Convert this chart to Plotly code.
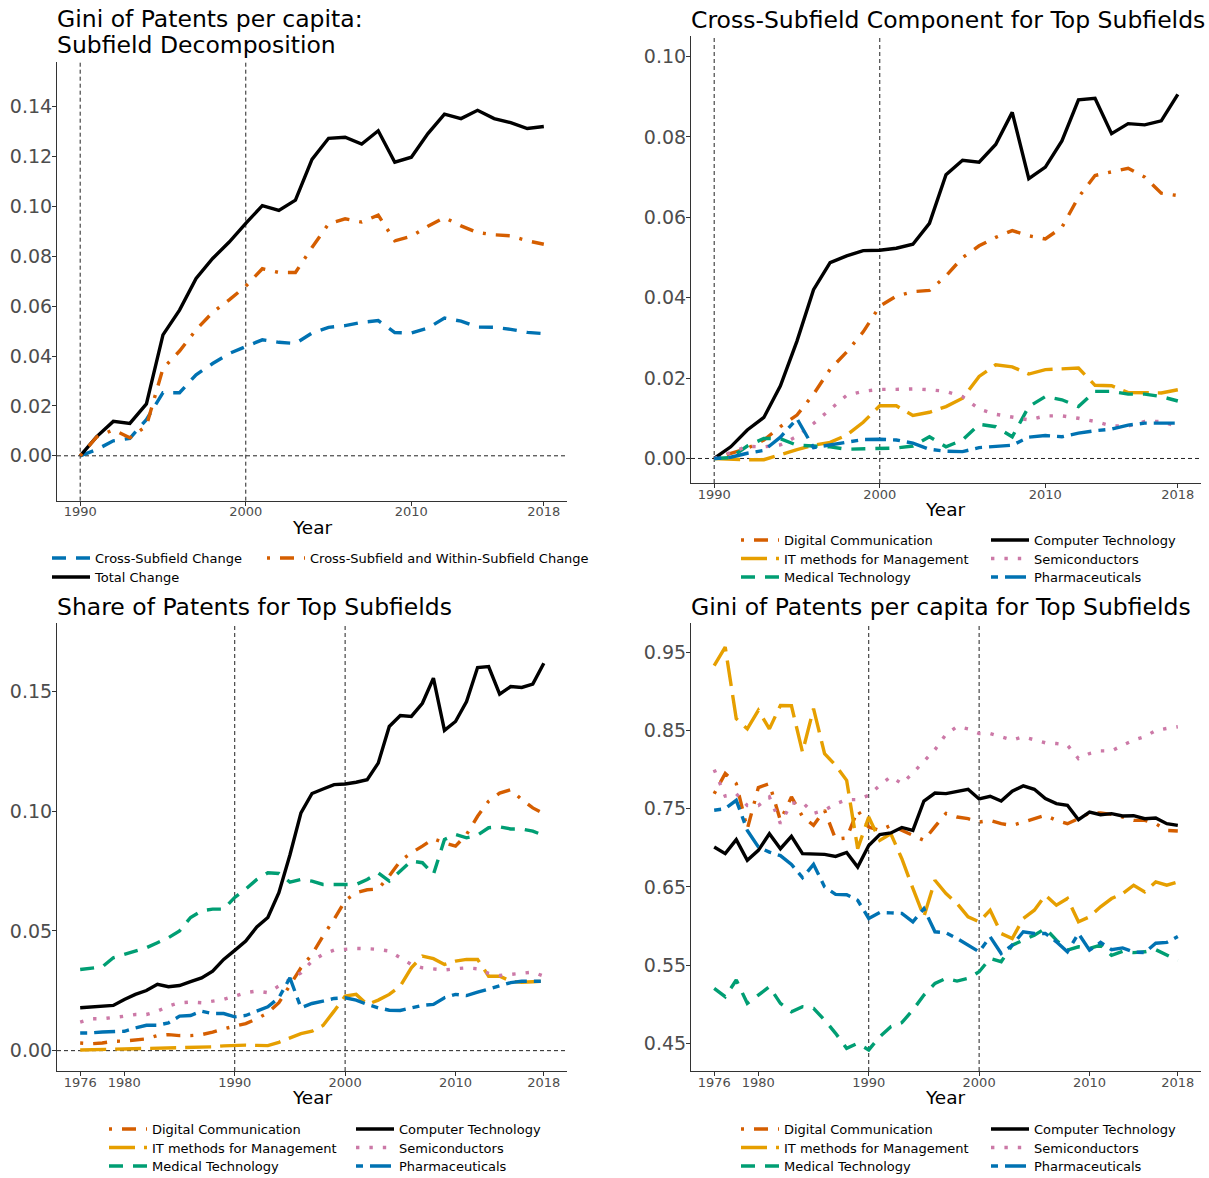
import plotly.graph_objects as go

FONT = "DejaVu Sans"
W, H = 1209, 1178

# ---------------- data ----------------
YEARS_DECOMP = list(range(1990, 2019))
YEARS_FULL = list(range(1976, 2019))
VLINES = [1990, 2000]

# Panel 1: Gini of patents per capita, subfield decomposition
CROSS_SUBFIELD_CHANGE = [0, 0.0025, 0.0060, 0.0070, 0.0145, 0.0253, 0.0253, 0.0325, 0.0370, 0.0410,
                         0.0438, 0.0465, 0.0455, 0.0450, 0.0492, 0.0515, 0.0522, 0.0535, 0.0542, 0.0494,
                         0.0492, 0.0512, 0.0552, 0.0540, 0.0516, 0.0515, 0.0507, 0.0495, 0.0490]
CROSS_AND_WITHIN_CHANGE = [0, 0.0076, 0.0104, 0.0072, 0.0120, 0.0350, 0.0420, 0.0505, 0.0575, 0.0625,
                           0.0680, 0.0750, 0.0735, 0.0735, 0.0835, 0.0930, 0.0950, 0.0937, 0.0965, 0.0862,
                           0.0880, 0.0920, 0.0955, 0.0922, 0.0895, 0.0886, 0.0882, 0.0862, 0.0848]
TOTAL_CHANGE = [0, 0.0077, 0.0138, 0.0130, 0.0208, 0.0485, 0.0584, 0.0711, 0.0791, 0.0857,
                0.0932, 0.1003, 0.0984, 0.1025, 0.1188, 0.1273, 0.1277, 0.1250, 0.1303, 0.1177,
                0.1197, 0.1292, 0.1370, 0.1352, 0.1385, 0.1352, 0.1336, 0.1312, 0.1320]

SUBFIELDS = ["Digital Communication", "IT methods for Management", "Medical Technology",
             "Computer Technology", "Semiconductors", "Pharmaceuticals"]

# Panel 2: cross-subfield component (1990-2018)
CROSS_DIGITAL = [0, 0.0012, 0.0025, 0.0046, 0.0079, 0.0108, 0.0160, 0.0222, 0.0265, 0.0315,
                 0.0379, 0.0404, 0.0415, 0.0418, 0.0454, 0.0500, 0.0529, 0.0550, 0.0567, 0.0554,
                 0.0546, 0.0575, 0.0650, 0.0704, 0.0713, 0.0722, 0.0700, 0.0660, 0.0654]
CROSS_IT = [0, -0.0002, -0.0003, -0.0003, 0.0010, 0.0022, 0.0033, 0.0040, 0.0058, 0.0090,
            0.0131, 0.0131, 0.0107, 0.0115, 0.0129, 0.0150, 0.0204, 0.0233, 0.0228, 0.0210,
            0.0221, 0.0223, 0.0225, 0.0182, 0.0181, 0.0164, 0.0163, 0.0163, 0.0171]
CROSS_MEDICAL = [0, 0.0002, 0.0031, 0.0050, 0.0049, 0.0033, 0.0031, 0.0029, 0.0023, 0.0024,
                 0.0026, 0.0026, 0.0031, 0.0054, 0.0029, 0.0046, 0.0085, 0.0079, 0.0054, 0.0129,
                 0.0154, 0.0146, 0.0129, 0.0167, 0.0167, 0.0160, 0.0160, 0.0154, 0.0143]
CROSS_COMPUTER = [0, 0.0029, 0.0071, 0.0102, 0.0181, 0.0292, 0.0420, 0.0487, 0.0504, 0.0517,
                  0.0518, 0.0523, 0.0533, 0.0585, 0.0706, 0.0742, 0.0737, 0.0781, 0.0861, 0.0696,
                  0.0725, 0.0790, 0.0892, 0.0896, 0.0808, 0.0833, 0.0830, 0.0840, 0.0906]
CROSS_SEMI = [0, 0.0015, 0.0030, 0.0029, 0.0034, 0.0055, 0.0087, 0.0122, 0.0157, 0.0167,
              0.0172, 0.0172, 0.0173, 0.0171, 0.0167, 0.0154, 0.0123, 0.0110, 0.0104, 0.0096,
              0.0106, 0.0106, 0.0100, 0.0092, 0.0081, 0.0081, 0.0092, 0.0092, 0.0079]
CROSS_PHARMA = [0, 0.0003, 0.0013, 0.0020, 0.0053, 0.0099, 0.0027, 0.0034, 0.0039, 0.0047,
                0.0048, 0.0046, 0.0038, 0.0023, 0.0018, 0.0017, 0.0027, 0.0031, 0.0033, 0.0053,
                0.0057, 0.0054, 0.0063, 0.0069, 0.0073, 0.0083, 0.0088, 0.0088, 0.0088]

# Panel 3: share of patents (1976-2018)
SHARE_DIGITAL = [0.0032, 0.0029, 0.0032, 0.0039, 0.0040, 0.0043, 0.0049, 0.0063, 0.0067, 0.0063,
                 0.0063, 0.0067, 0.0077, 0.0091, 0.0102, 0.0113, 0.0133, 0.0158, 0.0200, 0.0270,
                 0.0346, 0.0402, 0.0479, 0.0549, 0.0626, 0.0660, 0.0672, 0.0675, 0.0730, 0.0792,
                 0.0826, 0.0854, 0.0885, 0.0868, 0.0854, 0.0903, 0.0979, 0.1042, 0.1076, 0.1090,
                 0.1049, 0.1014, 0.0990]
SHARE_IT = [0.0003, 0.0003, 0.0004, 0.0006, 0.0007, 0.0008, 0.0008, 0.0009, 0.0010, 0.0010,
            0.0012, 0.0015, 0.0016, 0.0020, 0.0022, 0.0023, 0.0022, 0.0021, 0.0035, 0.0053,
            0.0071, 0.0081, 0.0105, 0.0165, 0.0228, 0.0235, 0.0193, 0.0211, 0.0235, 0.0270,
            0.0346, 0.0395, 0.0384, 0.0360, 0.0374, 0.0381, 0.0381, 0.0311, 0.0311, 0.0290,
            0.0286, 0.0288, 0.0290]
SHARE_MEDICAL = [0.0339, 0.0346, 0.0350, 0.0388, 0.0402, 0.0416, 0.0430, 0.0451, 0.0472, 0.0500,
                 0.0556, 0.0584, 0.0591, 0.0591, 0.0640, 0.0675, 0.0715, 0.0743, 0.0740, 0.0704,
                 0.0715, 0.0708, 0.0694, 0.0694, 0.0694, 0.0694, 0.0715, 0.0743, 0.0708, 0.0750,
                 0.0792, 0.0785, 0.0736, 0.0882, 0.0903, 0.0889, 0.0900, 0.0931, 0.0935, 0.0926,
                 0.0926, 0.0917, 0.0899]
SHARE_COMPUTER = [0.0179, 0.0182, 0.0186, 0.0189, 0.0214, 0.0235, 0.0251, 0.0277, 0.0267, 0.0272,
                  0.0288, 0.0304, 0.0332, 0.0381, 0.0419, 0.0458, 0.0517, 0.0556, 0.0660, 0.0817,
                  0.0993, 0.1074, 0.1093, 0.1111, 0.1114, 0.1121, 0.1132, 0.1201, 0.1354, 0.1400,
                  0.1396, 0.1451, 0.1556, 0.1338, 0.1375, 0.1458, 0.1600, 0.1604, 0.1489, 0.1521,
                  0.1517, 0.1531, 0.1618]
SHARE_SEMI = [0.0119, 0.0133, 0.0133, 0.0137, 0.0144, 0.0151, 0.0151, 0.0165, 0.0186, 0.0200,
              0.0203, 0.0200, 0.0207, 0.0214, 0.0228, 0.0242, 0.0249, 0.0242, 0.0270, 0.0297,
              0.0325, 0.0374, 0.0402, 0.0420, 0.0423, 0.0427, 0.0426, 0.0423, 0.0416, 0.0388,
              0.0360, 0.0346, 0.0342, 0.0337, 0.0342, 0.0346, 0.0342, 0.0323, 0.0314, 0.0318,
              0.0325, 0.0328, 0.0311]
SHARE_PHARMA = [0.0074, 0.0074, 0.0078, 0.0078, 0.0081, 0.0095, 0.0106, 0.0106, 0.0116, 0.0144,
                0.0147, 0.0165, 0.0155, 0.0155, 0.0141, 0.0147, 0.0165, 0.0183, 0.0221, 0.0304,
                0.0179, 0.0197, 0.0207, 0.0218, 0.0221, 0.0211, 0.0193, 0.0179, 0.0169, 0.0168,
                0.0179, 0.0189, 0.0193, 0.0221, 0.0235, 0.0230, 0.0244, 0.0258, 0.0270, 0.0284,
                0.0290, 0.0290, 0.0290]

# Panel 4: Gini of patents per capita (1976-2018)
GINI_DIGITAL = [0.7690, 0.7950, 0.7820, 0.7240, 0.7770, 0.7820, 0.7350, 0.7650, 0.7400, 0.7287,
                0.7480, 0.7110, 0.7125, 0.7480, 0.7265, 0.7222, 0.7287, 0.7222, 0.7160, 0.7095,
                0.7270, 0.7440, 0.7393, 0.7372, 0.7329, 0.7350, 0.7308, 0.7286, 0.7329, 0.7372,
                0.7415, 0.7350, 0.7308, 0.7372, 0.7444, 0.7444, 0.7427, 0.7393, 0.7350, 0.7350,
                0.7308, 0.7222, 0.7214]
GINI_IT = [0.9330, 0.9566, 0.8650, 0.8520, 0.8757, 0.8520, 0.8820, 0.8816, 0.8224, 0.8779,
           0.8203, 0.8054, 0.7862, 0.6988, 0.7393, 0.7095, 0.7180, 0.6860, 0.6480, 0.6120,
           0.6585, 0.6415, 0.6287, 0.6117, 0.6053, 0.6202, 0.5904, 0.5840, 0.6096, 0.6202,
           0.6394, 0.6266, 0.6351, 0.6053, 0.6117, 0.6245, 0.6351, 0.6415, 0.6521, 0.6436,
           0.6564, 0.6521, 0.6564]
GINI_MEDICAL = [0.5202, 0.5096, 0.5309, 0.5011, 0.5117, 0.5223, 0.5011, 0.4904, 0.4968, 0.4947,
                0.4798, 0.4628, 0.4436, 0.4500, 0.4415, 0.4585, 0.4713, 0.4764, 0.4926, 0.5117,
                0.5266, 0.5330, 0.5296, 0.5330, 0.5415, 0.5585, 0.5543, 0.5755, 0.5819, 0.5883,
                0.5968, 0.5819, 0.5691, 0.5734, 0.5713, 0.5755, 0.5624, 0.5675, 0.5660, 0.5670,
                0.5697, 0.5633, 0.5560]
GINI_COMPUTER = [0.7010, 0.6925, 0.7104, 0.6839, 0.6967, 0.7180, 0.6988, 0.7146, 0.6925, 0.6923,
                 0.6916, 0.6890, 0.6940, 0.6753, 0.7030, 0.7170, 0.7190, 0.7260, 0.7222, 0.7598,
                 0.7700, 0.7692, 0.7723, 0.7748, 0.7624, 0.7658, 0.7598, 0.7722, 0.7791, 0.7748,
                 0.7628, 0.7564, 0.7543, 0.7359, 0.7457, 0.7423, 0.7436, 0.7406, 0.7410, 0.7372,
                 0.7380, 0.7308, 0.7286]
GINI_SEMI = [0.8000, 0.7660, 0.7690, 0.7540, 0.7540, 0.7650, 0.7310, 0.7570, 0.7580, 0.7440,
             0.7480, 0.7560, 0.7615, 0.7615, 0.7670, 0.7800, 0.7910, 0.7820, 0.7955, 0.8110,
             0.8255, 0.8450, 0.8550, 0.8520, 0.8462, 0.8462, 0.8419, 0.8376, 0.8419, 0.8385,
             0.8342, 0.8333, 0.8312, 0.8140, 0.8205, 0.8239, 0.8239, 0.8310, 0.8376, 0.8420,
             0.8500, 0.8526, 0.8547]
GINI_PHARMA = [0.7480, 0.7500, 0.7607, 0.7222, 0.7010, 0.6945, 0.6900, 0.6788, 0.6618, 0.6788,
               0.6500, 0.6404, 0.6400, 0.6328, 0.6096, 0.6172, 0.6168, 0.6160, 0.6053, 0.6223,
               0.5926, 0.5913, 0.5840, 0.5755, 0.5670, 0.5862, 0.5649, 0.5755, 0.5926, 0.5904,
               0.5904, 0.5798, 0.5670, 0.5904, 0.5691, 0.5790, 0.5697, 0.5720, 0.5667, 0.5660,
               0.5780, 0.5790, 0.5867]

# ---------------- styles ----------------
LW = 3.4
COLORS = {"Digital Communication": "#D55E00", "IT methods for Management": "#E69F00",
          "Medical Technology": "#009E73", "Computer Technology": "#000000",
          "Semiconductors": "#CC79A7", "Pharmaceuticals": "#0072B2"}
DASH_DOTDASH = "3px,10px,14px,10px"
DASH_LONG = "26px,9px"
DASH_DASHED = "14px,10px"
DASH_DOTTED = "3.4px,10px"
DASH_TWODASH = "7px,7px,21px,7px"
DASHES = {"Digital Communication": DASH_DOTDASH, "IT methods for Management": DASH_LONG,
          "Medical Technology": DASH_DASHED, "Computer Technology": "solid",
          "Semiconductors": DASH_DOTTED, "Pharmaceuticals": DASH_TWODASH}


def px(x):
    return x / W


def py(y):
    return 1 - y / H


fig = go.Figure()

# panel geometry (pixels)
LEFT = (57, 567)
RIGHT = (691, 1201)
P_TOP = {1: (61.7, 500.7), 2: (36, 483), 3: (623.3, 1071), 4: (623.3, 1071)}
P_X = {1: LEFT, 2: RIGHT, 3: LEFT, 4: RIGHT}

# legend slot geometry: text x for each column, y centre of each row
LEG_COLS = {1: (95, 310), 2: (784, 1034), 3: (152, 399), 4: (784, 1034)}
LEG_ROWS = {1: (558, 577), 2: (540, 558.5, 577), 3: (1129, 1147.5, 1166), 4: (1129, 1147.5, 1166)}

legend_slots = []  # (legend id, column, row, panel)


def new_legend(panel, col, row):
    idx = len(legend_slots) + 1
    lid = "legend" if idx == 1 else f"legend{idx}"
    legend_slots.append((lid, col, row, panel))
    return lid


# ---------- panel 1 ----------
p1 = [("Cross-Subfield Change", CROSS_SUBFIELD_CHANGE, "#0072B2", DASH_DASHED, 0, 0),
      ("Total Change", TOTAL_CHANGE, "#000000", "solid", 0, 1),
      ("Cross-Subfield and Within-Subfield Change", CROSS_AND_WITHIN_CHANGE, "#D55E00", DASH_DOTDASH, 1, 0)]
for name, vals, col, dash, c, r in p1:
    fig.add_trace(go.Scatter(x=YEARS_DECOMP, y=vals, mode="lines", name=name, showlegend=True,
                             line=dict(color=col, width=LW, dash=dash),
                             xaxis="x", yaxis="y", legend=new_legend(1, c, r)))

# ---------- panels 2-4 ----------
panel_data = {
    2: dict(zip(SUBFIELDS, [CROSS_DIGITAL, CROSS_IT, CROSS_MEDICAL, CROSS_COMPUTER, CROSS_SEMI, CROSS_PHARMA])),
    3: dict(zip(SUBFIELDS, [SHARE_DIGITAL, SHARE_IT, SHARE_MEDICAL, SHARE_COMPUTER, SHARE_SEMI, SHARE_PHARMA])),
    4: dict(zip(SUBFIELDS, [GINI_DIGITAL, GINI_IT, GINI_MEDICAL, GINI_COMPUTER, GINI_SEMI, GINI_PHARMA])),
}
panel_years = {2: YEARS_DECOMP, 3: YEARS_FULL, 4: YEARS_FULL}
for p in (2, 3, 4):
    for i, name in enumerate(SUBFIELDS):
        fig.add_trace(go.Scatter(x=panel_years[p], y=panel_data[p][name], mode="lines", name=name,
                                 showlegend=True,
                                 line=dict(color=COLORS[name], width=LW, dash=DASHES[name]),
                                 xaxis=f"x{p}", yaxis=f"y{p}",
                                 legend=new_legend(p, i // 3, i % 3)))

# ---------- axes ----------
AX_COL = "#333333"
TICK_COL = "#4D4D4D"
x_ranges = {1: [1988.6, 2019.4], 2: [1988.6, 2019.4], 3: [1973.9, 2020.1], 4: [1973.9, 2020.1]}
x_ticks = {1: [1990, 2000, 2010, 2018], 2: [1990, 2000, 2010, 2018],
           3: [1976, 1980, 1990, 2000, 2010, 2018], 4: [1976, 1980, 1990, 2000, 2010, 2018]}
y_ranges = {1: [-0.018, 0.158], 2: [-0.0061, 0.1051], 3: [-0.0085, 0.1785], 4: [0.4146, 0.987]}
y_ticks = {1: [0, 0.02, 0.04, 0.06, 0.08, 0.10, 0.12, 0.14],
           2: [0, 0.02, 0.04, 0.06, 0.08, 0.10],
           3: [0, 0.05, 0.10, 0.15],
           4: [0.45, 0.55, 0.65, 0.75, 0.85, 0.95]}

layout = dict(width=W, height=H, margin=dict(l=0, r=0, t=0, b=0, autoexpand=False),
              paper_bgcolor="white", plot_bgcolor="white", showlegend=True,
              font=dict(family=FONT, color="black"))
for p in (1, 2, 3, 4):
    sfx = "" if p == 1 else str(p)
    x0, x1 = P_X[p]
    t, b = P_TOP[p]
    common = dict(showline=True, linecolor=AX_COL, linewidth=1.1, ticks="outside", ticklen=4,
                  tickwidth=1.1, tickcolor=AX_COL, showgrid=False, zeroline=False)
    layout["xaxis" + sfx] = dict(domain=[px(x0), px(x1)], range=x_ranges[p], tickvals=x_ticks[p],
                                 tickfont=dict(size=13, color=TICK_COL, family=FONT),
                                 ticklabelstandoff=-5, anchor="y" + sfx, **common)
    layout["yaxis" + sfx] = dict(domain=[py(b), py(t)], range=y_ranges[p], tickvals=y_ticks[p],
                                 tickformat=".2f", tickfont=dict(size=19, color=TICK_COL, family=FONT),
                                 ticklabelstandoff=-4, anchor="x" + sfx, **common)

# ---------- reference lines ----------
shapes = []
for p in (1, 2, 3, 4):
    sfx = "" if p == 1 else str(p)
    for v in VLINES:
        shapes.append(dict(type="line", xref="x" + sfx, yref=f"y{sfx} domain", x0=v, x1=v, y0=0, y1=1,
                           line=dict(color="#222222", width=1, dash="4px,3px"), layer="below"))
    if p != 4:
        shapes.append(dict(type="line", xref=f"x{sfx} domain", yref="y" + sfx, x0=0, x1=1, y0=0, y1=0,
                           line=dict(color="#222222", width=1, dash="4px,3px"), layer="below"))
layout["shapes"] = shapes

# ---------- titles ----------
TITLE_SIZE = 23.5
annotations = []
titles = [("Gini of Patents per capita:", 55, 19), ("Subfield Decomposition", 55, 45),
          ("Cross-Subfield Component for Top Subfields", 689, 20),
          ("Share of Patents for Top Subfields", 55, 607),
          ("Gini of Patents per capita for Top Subfields", 689, 607)]
for txt, x, y in titles:
    annotations.append(dict(text=txt, x=px(x), y=py(y), xref="paper", yref="paper", xanchor="left",
                            yanchor="middle", showarrow=False, font=dict(size=TITLE_SIZE, family=FONT, color="black")))
for x, y in [(312, 527), (946, 509.5), (312, 1097.5), (946, 1097.5)]:
    annotations.append(dict(text="Year", x=px(x), y=py(y), xref="paper", yref="paper", xanchor="center",
                            yanchor="middle", showarrow=False, font=dict(size=18.5, family=FONT, color="black")))
layout["annotations"] = annotations

# ---------- legends (one slot per entry) ----------
leg_common = dict(orientation="v", xanchor="left", yanchor="top", bgcolor="rgba(0,0,0,0)",
                  font=dict(size=13, family=FONT, color="black"), itemwidth=38,
                  itemclick=False, itemdoubleclick=False, visible=True)
for lid, c, r, p in legend_slots:
    tx = LEG_COLS[p][c]
    ry = LEG_ROWS[p][r]
    layout[lid] = dict(x=px(tx - 48), y=py(ry - 15), **leg_common)

fig.update_layout(**layout)

POST = """
document.body.style.margin='0';
document.documentElement.style.overflow='hidden';
document.body.style.overflow='hidden';
"""
fig.write_html("out.html", config={"displayModeBar": False}, post_script=POST)
